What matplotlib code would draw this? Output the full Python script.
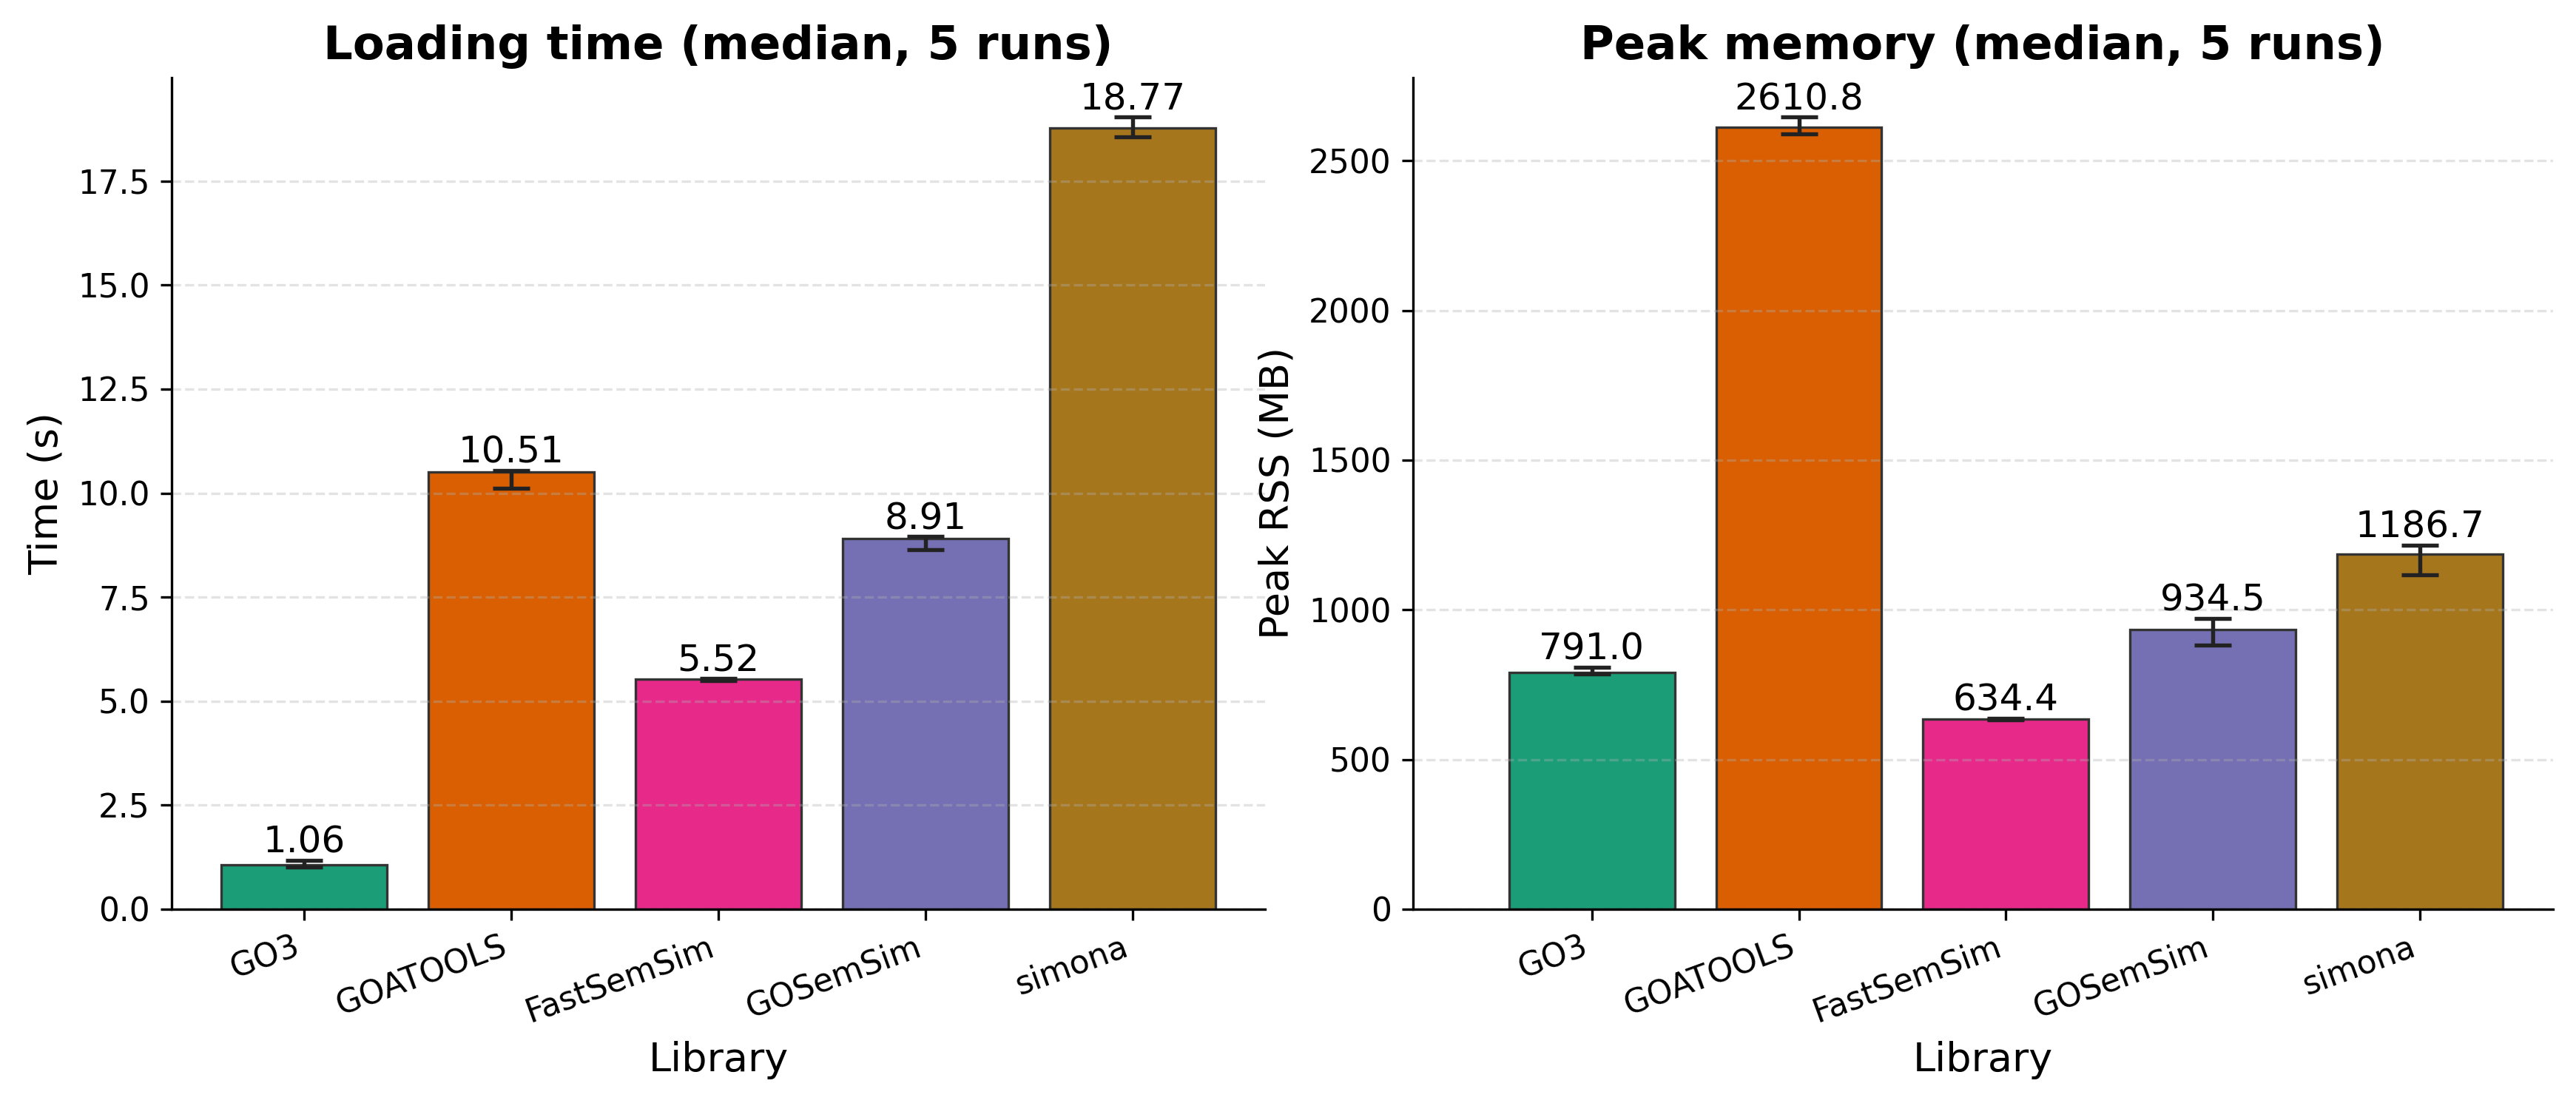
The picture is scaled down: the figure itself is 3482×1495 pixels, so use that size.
import matplotlib
matplotlib.use("Agg")
import matplotlib.pyplot as plt
import numpy as np

libraries = ["GO3", "GOATOOLS", "FastSemSim", "GOSemSim", "simona"]
colors = ["#1b9e77", "#d95f02", "#e7298a", "#7570b3", "#a6761d"]

load_time = [1.06, 10.51, 5.52, 8.91, 18.77]
load_err_low = [0.04, 0.39, 0.02, 0.27, 0.20]
load_err_high = [0.12, 0.04, 0.02, 0.05, 0.27]

peak_mem = [791.0, 2610.8, 634.4, 934.5, 1186.7]
mem_err_low = [5, 22, 3, 52, 69]
mem_err_high = [17, 35, 3, 37, 30]

W, H = 3482 / 300, 1495 / 300
fig = plt.figure(figsize=(W, H), dpi=300)
ax1 = fig.add_axes([0.0666, 0.178, 0.4245, 0.752])
ax2 = fig.add_axes([0.5485, 0.178, 0.4425, 0.752])

panels = [
    (ax1, load_time, load_err_low, load_err_high, "Loading time (median, 5 runs)", "Time (s)", "%.2f"),
    (ax2, peak_mem, mem_err_low, mem_err_high, "Peak memory (median, 5 runs)", "Peak RSS (MB)", "%.1f"),
]

for ax, vals, lo, hi, title, ylabel, fmt in panels:
    x = np.arange(len(libraries))
    bars = ax.bar(x, vals, width=0.8, color=colors, edgecolor="#333333", linewidth=0.8,
                  yerr=[lo, hi], capsize=6,
                  error_kw=dict(ecolor="#222222", elinewidth=1.3, capthick=1.3))
    ax.bar_label(bars, fmt=fmt, fontsize=12, padding=0)
    ax.set_title(title, fontsize=15, fontweight="bold")
    ax.set_xlabel("Library", fontsize=13)
    ax.set_ylabel(ylabel, fontsize=13)
    ax.set_xticks(x)
    ax.set_xticklabels(libraries, rotation=20, ha="right", fontsize=10.5)
    ax.tick_params(axis="y", labelsize=10.5)
    ax.grid(axis="y", linestyle="--", alpha=0.35, linewidth=0.8)
    ax.spines["top"].set_visible(False)
    ax.spines["right"].set_visible(False)

ax2.set_xlim(-0.865, 4.643)

fig.savefig("out.png", dpi=300)
